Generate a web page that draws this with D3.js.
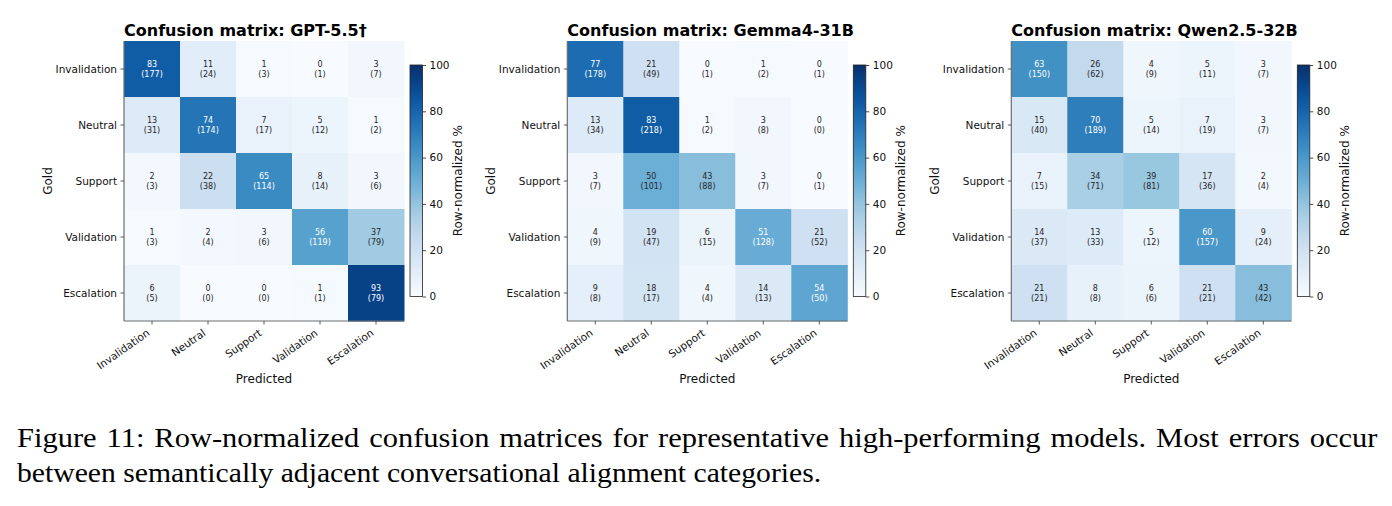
<!DOCTYPE html>
<html>
<head>
<meta charset="utf-8">
<script src="https://cdn.jsdelivr.net/npm/d3@7"></script>
<style>
  html, body { margin: 0; padding: 0; background: #fff; }
  svg { display: block; }
</style>
</head>
<body>
<svg id="chart" width="1392" height="506"></svg>
<script>
// ---------------- DATA ----------------
const categories = ["Invalidation", "Neutral", "Support", "Validation", "Escalation"];
const colorbarTicks = [0, 20, 40, 60, 80, 100];

const modelTitles = ["Confusion matrix: GPT-5.5\u2020", "Confusion matrix: Gemma4-31B", "Confusion matrix: Qwen2.5-32B"];

const gptPct = [[83, 11, 1, 0, 3], [13, 74, 7, 5, 1], [2, 22, 65, 8, 3], [1, 2, 3, 56, 37], [6, 0, 0, 1, 93]];
const gptCount = [[177, 24, 3, 1, 7], [31, 174, 17, 12, 2], [3, 38, 114, 14, 6], [3, 4, 6, 119, 79], [5, 0, 0, 1, 79]];

const gemmaPct = [[77, 21, 0, 1, 0], [13, 83, 1, 3, 0], [3, 50, 43, 3, 0], [4, 19, 6, 51, 21], [9, 18, 4, 14, 54]];
const gemmaCount = [[178, 49, 1, 2, 1], [34, 218, 2, 8, 0], [7, 101, 88, 7, 1], [9, 47, 15, 128, 52], [8, 17, 4, 13, 50]];

const qwenPct = [[63, 26, 4, 5, 3], [15, 70, 5, 7, 3], [7, 34, 39, 17, 2], [14, 13, 5, 60, 9], [21, 8, 6, 21, 43]];
const qwenCount = [[150, 62, 9, 11, 7], [40, 189, 14, 19, 7], [15, 71, 81, 36, 4], [37, 33, 12, 157, 24], [21, 8, 6, 21, 42]];

const captionLines = [
  "Figure 11: Row-normalized confusion matrices for representative high-performing models. Most errors occur",
  "between semantically adjacent conversational alignment categories."
];

// ---------------- LAYOUT ----------------
const panels = [
  { title: modelTitles[0], pct: gptPct, count: gptCount, left: 124 },
  { title: modelTitles[1], pct: gemmaPct, count: gemmaCount, left: 567.3 },
  { title: modelTitles[2], pct: qwenPct, count: qwenCount, left: 1011.3 }
];
const matTop = 41, matSize = 280;
const cbTop = 65, cbBottom = 296.5, cbGap = 6, cbWidth = 12.5;
const sansFont = "'DejaVu Sans', sans-serif";

// matplotlib "Blues" colormap stops
const bluesStops = ["#f7fbff", "#deebf7", "#c6dbef", "#9ecae1", "#6baed6", "#4292c6", "#2171b5", "#08519c", "#08306b"];
const color = d3.scaleLinear()
  .domain(d3.range(bluesStops.length).map(i => i * 100 / (bluesStops.length - 1)))
  .range(bluesStops)
  .interpolate(d3.interpolateRgb)
  .clamp(true);

const svg = d3.select("#chart");
const defs = svg.append("defs");
const grad = defs.append("linearGradient")
  .attr("id", "bluesGrad")
  .attr("x1", "0").attr("y1", "1").attr("x2", "0").attr("y2", "0");
d3.range(0, 101, 5).forEach(v => {
  grad.append("stop").attr("offset", (v / 100)).attr("stop-color", color(v));
});

panels.forEach((p) => {
  const g = svg.append("g");
  const x = d3.scaleBand().domain(categories).range([p.left, p.left + matSize]);
  const y = d3.scaleBand().domain(categories).range([matTop, matTop + matSize]);

  // cells
  const cells = [];
  p.pct.forEach((row, i) => row.forEach((v, j) => cells.push({ gold: categories[i], pred: categories[j], v, n: p.count[i][j] })));

  g.selectAll("rect.cell").data(cells).join("rect")
    .attr("class", "cell")
    .attr("x", d => x(d.pred))
    .attr("y", d => y(d.gold))
    .attr("width", x.bandwidth() + 0.5)
    .attr("height", y.bandwidth() + 0.5)
    .attr("fill", d => color(d.v));

  const txt = g.selectAll("text.cellv").data(cells).join("text")
    .attr("class", "cellv")
    .attr("font-family", sansFont)
    .attr("font-size", 8)
    .attr("text-anchor", "middle")
    .attr("fill", d => d.v > 50 ? "#ffffff" : "#262626");
  txt.append("tspan")
    .attr("x", d => x(d.pred) + x.bandwidth() / 2)
    .attr("y", d => y(d.gold) + y.bandwidth() / 2 - 1.8)
    .text(d => d.v);
  txt.append("tspan")
    .attr("x", d => x(d.pred) + x.bandwidth() / 2)
    .attr("y", d => y(d.gold) + y.bandwidth() / 2 + 7.8)
    .text(d => "(" + d.n + ")");

  // spines (left & bottom)
  g.append("line").attr("x1", p.left).attr("x2", p.left).attr("y1", matTop).attr("y2", matTop + matSize)
    .attr("stroke", "#6e6e6e").attr("stroke-width", 1.2);
  g.append("line").attr("x1", p.left).attr("x2", p.left + matSize).attr("y1", matTop + matSize).attr("y2", matTop + matSize)
    .attr("stroke", "#6e6e6e").attr("stroke-width", 1.2);

  // y axis
  const yAxis = g.append("g").attr("transform", `translate(${p.left},0)`)
    .call(d3.axisLeft(y).tickSize(3.5).tickPadding(3.5));
  yAxis.select(".domain").remove();
  yAxis.selectAll(".tick line").attr("stroke", "#333").attr("stroke-width", 0.8);
  yAxis.selectAll(".tick text").attr("font-family", sansFont).attr("font-size", 10.5).attr("fill", "#111")
    .attr("dy", "0.4em");

  // x axis
  const xAxis = g.append("g").attr("transform", `translate(0,${matTop + matSize})`)
    .call(d3.axisBottom(x).tickSize(3.5).tickPadding(3.5));
  xAxis.select(".domain").remove();
  xAxis.selectAll(".tick line").attr("stroke", "#333").attr("stroke-width", 0.8);
  const ang = 35, rad = ang * Math.PI / 180;
  xAxis.selectAll(".tick text")
    .attr("font-family", sansFont).attr("font-size", 10.5).attr("fill", "#111")
    .attr("text-anchor", "end")
    .attr("dy", null)
    .attr("y", null)
    .attr("transform", `translate(${-2.6 * Math.sin(rad)},${7 + 8 * Math.cos(rad)}) rotate(${-ang})`);

  // axis labels
  g.append("text")
    .attr("x", p.left + matSize / 2).attr("y", 383)
    .attr("text-anchor", "middle")
    .attr("font-family", sansFont).attr("font-size", 12).attr("fill", "#111")
    .text("Predicted");
  g.append("text")
    .attr("transform", `translate(${p.left - 72.5},${matTop + matSize / 2}) rotate(-90)`)
    .attr("text-anchor", "middle")
    .attr("font-family", sansFont).attr("font-size", 12).attr("fill", "#111")
    .text("Gold");

  // title
  g.append("text")
    .attr("x", p.left).attr("y", 35.7)
    .attr("font-family", sansFont).attr("font-size", 16).attr("font-weight", "bold").attr("fill", "#000")
    .text(p.title);

  // colorbar
  const cbLeft = p.left + matSize + cbGap;
  const cbScale = d3.scaleLinear().domain([0, 100]).range([cbBottom, cbTop]);
  g.append("rect")
    .attr("x", cbLeft).attr("y", cbTop).attr("width", cbWidth).attr("height", cbBottom - cbTop)
    .attr("fill", "url(#bluesGrad)").attr("stroke", "#222").attr("stroke-width", 0.8);
  const cbAxis = g.append("g").attr("transform", `translate(${cbLeft + cbWidth},0)`)
    .call(d3.axisRight(cbScale).tickValues(colorbarTicks).tickSize(3.5).tickPadding(3.5));
  cbAxis.select(".domain").remove();
  cbAxis.selectAll(".tick line").attr("stroke", "#222").attr("stroke-width", 0.8);
  cbAxis.selectAll(".tick text").attr("font-family", sansFont).attr("font-size", 10.5).attr("fill", "#111");
  g.append("text")
    .attr("transform", `translate(${cbLeft + cbWidth + 39},${(cbTop + cbBottom) / 2}) rotate(-90)`)
    .attr("text-anchor", "middle")
    .attr("font-family", sansFont).attr("font-size", 12).attr("fill", "#111")
    .text("Row-normalized %");
});

// ---------------- CAPTION ----------------
const capLeft = 17, capRight = 1378;
const serif = "'Liberation Serif', 'Times New Roman', serif";
const capFont = 26.5;

// line 2: natural (ragged) last line, compressed horizontally to match the reference extent
const capG2 = svg.append("g");
const cap2 = capG2.append("text")
  .attr("x", 0).attr("y", 482)
  .attr("font-family", serif).attr("font-size", capFont).attr("fill", "#000")
  .text(captionLines[1]);
const w2 = cap2.node().getComputedTextLength();
const sx2 = (821.7 - capLeft) / w2;
capG2.attr("transform", `translate(${capLeft},0) scale(${sx2},1)`);

// line 1: justified to the full width with modest inter-word stretch
const capG1 = svg.append("g");
const cap1 = capG1.append("text")
  .attr("x", 0).attr("y", 447.5)
  .attr("font-family", serif).attr("font-size", capFont).attr("fill", "#000")
  .text(captionLines[0]);
const w1 = cap1.node().getComputedTextLength();
const nSpaces = (captionLines[0].match(/ /g) || []).length;
const stretch = 2;
const sx1 = (capRight - capLeft) / (w1 + nSpaces * stretch);
cap1.attr("word-spacing", stretch);
capG1.attr("transform", `translate(${capLeft},0) scale(${sx1},1)`);
</script>
</body>
</html>
